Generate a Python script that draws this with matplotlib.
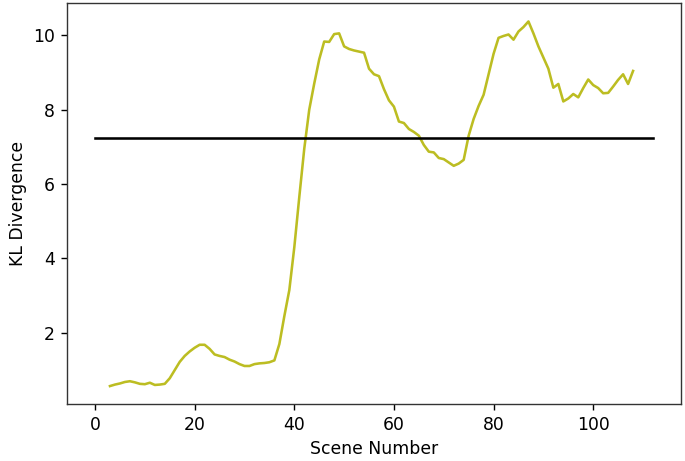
import matplotlib
matplotlib.use('Agg')
import matplotlib.pyplot as plt

# numero da cena e divergencia KL
cenas = list(range(3, 109))
kl = [0.57, 0.61, 0.64, 0.68, 0.70, 0.67, 0.63, 0.62, 0.66, 0.60,
      0.61, 0.63, 0.78, 1.00, 1.22, 1.38, 1.50, 1.60, 1.68, 1.68,
      1.57, 1.42, 1.38, 1.35, 1.28, 1.23, 1.16, 1.11, 1.11, 1.16,
      1.18, 1.19, 1.21, 1.26, 1.70, 2.45, 3.15, 4.30, 5.65, 6.95,
      8.00, 8.70, 9.35, 9.83, 9.82, 10.03, 10.05, 9.70, 9.63, 9.59,
      9.56, 9.53, 9.10, 8.95, 8.90, 8.55, 8.25, 8.08, 7.68, 7.64,
      7.48, 7.40, 7.30, 7.05, 6.87, 6.85, 6.70, 6.67, 6.58, 6.49,
      6.55, 6.65, 7.30, 7.75, 8.10, 8.40, 8.95, 9.50, 9.93, 9.98,
      10.02, 9.88, 10.10, 10.22, 10.37, 10.05, 9.70, 9.40, 9.10, 8.59,
      8.69, 8.22, 8.30, 8.42, 8.33, 8.58, 8.81, 8.66, 8.58, 8.44,
      8.45, 8.62, 8.80, 8.95, 8.69, 9.04]
# limiar
lim_x = [0, 112]
lim_y = [7.25, 7.25]

plt.rcParams['font.size'] = 12.4
plt.rcParams['axes.linewidth'] = 1.0
plt.rcParams['axes.labelpad'] = 4.5
plt.rcParams['xtick.major.width'] = 1.0
plt.rcParams['ytick.major.width'] = 1.0
plt.rcParams['xtick.major.size'] = 4.4
plt.rcParams['ytick.major.size'] = 4.4
plt.rcParams['xtick.major.pad'] = 4.2
plt.rcParams['ytick.major.pad'] = 4.2

fig = plt.figure(figsize=(6.85, 4.61), dpi=100)
ax = fig.add_axes([0.098, 0.123, 0.896, 0.870])
ax.plot(cenas, kl, color='#bcbd22', lw=1.85)
ax.plot(lim_x, lim_y, color='k', lw=1.85)
ax.set_xlabel('Scene Number')
ax.set_ylabel('KL Divergence')
for s in ax.spines.values():
    s.set_color('#333333')
fig.savefig('out.png', dpi=100)
